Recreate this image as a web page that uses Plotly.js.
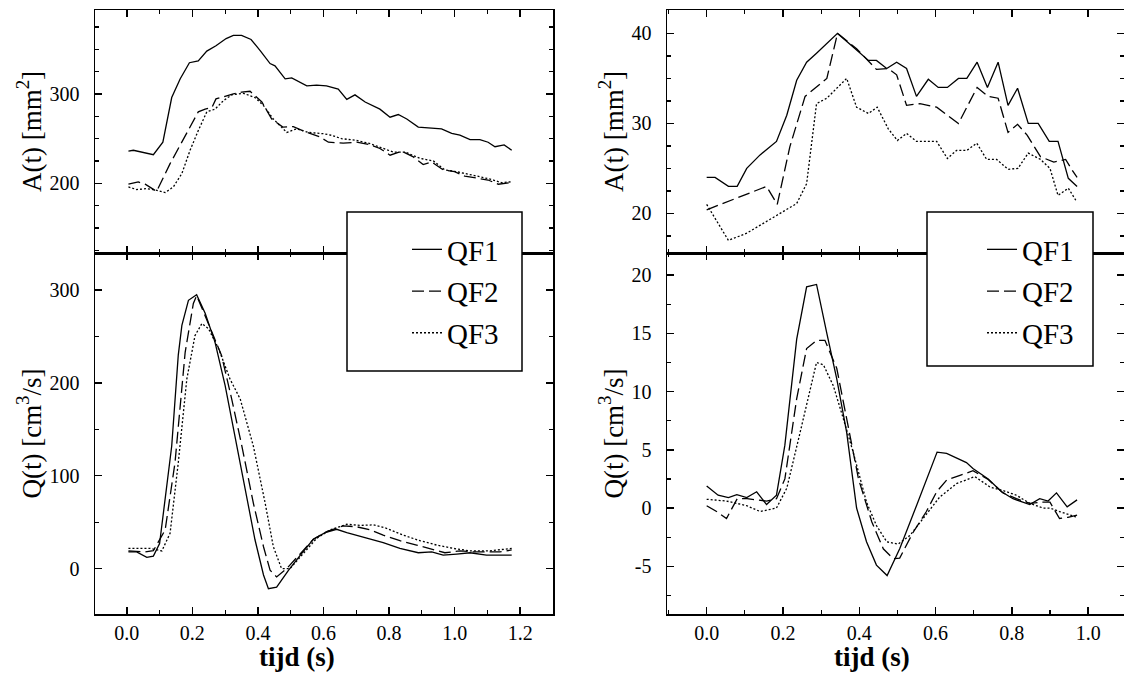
<!DOCTYPE html>
<html>
<head>
<meta charset="utf-8">
<script src="https://cdn.plot.ly/plotly-3.0.1.min.js"></script>
<style>html,body{margin:0;padding:0;background:#fff;}#chart{width:1124px;height:683px;}</style>
</head>
<body>
<div id="chart"></div>
<script>
// ---------- data ----------
// Left column: A(t) [mm2]
const tA_L_QF1 = [0.005,0.02,0.081,0.11,0.137,0.163,0.191,0.218,0.244,0.272,0.303,0.325,0.35,0.379,0.408,0.437,0.452,0.483,0.503,0.549,0.579,0.609,0.645,0.671,0.696,0.727,0.772,0.803,0.828,0.854,0.889,0.925,0.96,0.991,1.016,1.047,1.077,1.102,1.123,1.151,1.174];
const A_L_QF1  = [236,237,232,246,296,317,335,337,348,354,362,365.5,365.5,361,348,334,331.5,317,318,309,310,309,305.5,294,299,291,283,274,277,272,263,262,261,256,254,249,249,246,241,243,237];
const tA_L_QF2 = [0.005,0.035,0.056,0.091,0.132,0.183,0.218,0.239,0.26,0.272,0.295,0.325,0.35,0.376,0.412,0.442,0.476,0.508,0.549,0.589,0.615,0.66,0.701,0.737,0.772,0.803,0.838,0.874,0.904,0.93,0.965,1.0,1.031,1.067,1.102,1.133,1.174];
const A_L_QF2  = [199,201.5,199,191,222,257,280,283,285,294.5,297,300,302,303,291,272,263,263.5,257,252,246,245,246,243.7,239,231.5,236,229.6,221,224,215,213,208,205.5,203.7,199,201];
const tA_L_QF3 = [0.005,0.03,0.06,0.086,0.117,0.142,0.168,0.193,0.218,0.244,0.269,0.295,0.32,0.356,0.391,0.417,0.447,0.488,0.518,0.554,0.6,0.625,0.655,0.701,0.742,0.783,0.813,0.849,0.894,0.935,0.97,1.006,1.047,1.082,1.118,1.143,1.174];
const A_L_QF3  = [196,193,194,192.6,189.6,196,211,237,259,280,283,292.6,299,300.7,296,287,272,257,261,257,255.5,253.7,250,248,244.4,239,235,235,228,225,215,213,210,207,203.7,200.7,201.8];

// Left column: Q(t) [cm3/s]
const tQ_L_QF1 = [0.005,0.03,0.061,0.081,0.1,0.114,0.137,0.157,0.168,0.188,0.213,0.239,0.269,0.3,0.33,0.361,0.391,0.417,0.432,0.457,0.493,0.533,0.569,0.605,0.64,0.671,0.732,0.782,0.833,0.889,0.93,0.965,1.006,1.047,1.097,1.174];
const Q_L_QF1  = [18,18,12,13.4,27,67,132,230,262,289,295,275,244,197,143,85,31,-7,-21.7,-20,-2,16,31.5,38.7,42.3,38.7,32.5,27.9,21.7,17,18,14.5,15.6,17,14.5,14.5];
const tQ_L_QF2 = [0.005,0.056,0.081,0.117,0.147,0.178,0.203,0.213,0.234,0.264,0.289,0.32,0.351,0.386,0.417,0.437,0.457,0.488,0.528,0.569,0.61,0.66,0.701,0.742,0.782,0.833,0.884,0.935,0.97,1.016,1.057,1.097,1.138,1.174];
const Q_L_QF2  = [19,18,19.2,41.6,114,233,285.7,294,276.6,251,229.6,182.6,132,70.5,23.5,-1.8,-9,0,16,31.5,39.8,46,45,41.6,36,30,25.3,20,17,19,18,18,18,20];
const tQ_L_QF3 = [0.005,0.071,0.107,0.132,0.157,0.183,0.208,0.229,0.249,0.28,0.315,0.346,0.386,0.422,0.447,0.472,0.498,0.538,0.579,0.62,0.671,0.711,0.752,0.792,0.843,0.894,0.945,0.996,1.047,1.107,1.174];
const Q_L_QF3  = [21.7,21.7,19,38,114,204,251,264,258.6,236.9,204,182.6,132,70.5,23.5,0,0,16,32.5,41.6,47.7,46.5,47,43.4,36,30,25.3,21.7,19,19,21.7];

// Right column: A(t) [mm2]
const tA_R_QF1 = [0,0.022,0.057,0.08,0.105,0.14,0.183,0.21,0.236,0.262,0.288,0.315,0.343,0.384,0.424,0.445,0.472,0.498,0.524,0.55,0.581,0.607,0.631,0.66,0.682,0.709,0.736,0.764,0.79,0.815,0.843,0.869,0.898,0.921,0.948,0.971];
const A_R_QF1  = [24,24,23,23,25,26.5,28,30.9,34.8,36.8,37.8,38.9,40,38.5,37,37,36.1,36.8,36.1,33,34.9,34,34,35,35,36.8,34,36.8,32,33.9,30,30,28,28,23.9,23];
const tA_R_QF2 = [0,0.157,0.185,0.218,0.258,0.315,0.343,0.393,0.445,0.476,0.498,0.524,0.559,0.603,0.66,0.709,0.738,0.764,0.79,0.815,0.84,0.875,0.91,0.941,0.958,0.971];
const A_R_QF2  = [20.4,23,21,27.4,33,35,40,38.3,36,36.1,35.4,32,32.2,31.8,30,34,33,32.8,29,29.9,28.7,26.3,25.7,26,24.8,24];
const tA_R_QF3 = [0,0.057,0.105,0.236,0.262,0.288,0.315,0.367,0.393,0.424,0.447,0.476,0.5,0.524,0.55,0.603,0.631,0.655,0.682,0.708,0.734,0.76,0.79,0.816,0.843,0.875,0.9,0.921,0.948,0.97];
const A_R_QF3  = [21,17,17.8,21.1,23.3,32.2,32.8,35,31.8,31.1,31.8,29.4,28.1,28.9,28,28,26.1,27,27,27.8,26,26,24.9,25,26.7,26,25,22,22.8,21.3];

// Right column: Q(t) [cm3/s]
const tQ_R_QF1 = [0,0.03,0.057,0.079,0.105,0.131,0.157,0.183,0.205,0.236,0.262,0.288,0.315,0.341,0.367,0.393,0.419,0.445,0.473,0.506,0.55,0.604,0.629,0.668,0.681,0.698,0.738,0.773,0.803,0.847,0.873,0.895,0.917,0.945,0.971];
const Q_R_QF1  = [1.9,1.1,0.9,1.15,0.9,1.4,0.3,1.1,5.4,14.5,19,19.2,15,11.1,6.5,0,-2.9,-4.9,-5.8,-3.5,0.2,4.8,4.7,4.1,3.9,3.4,2.5,1.4,0.8,0.3,0.8,0.6,1.3,0.1,0.7];
const tQ_R_QF2 = [0,0.026,0.052,0.08,0.106,0.131,0.157,0.183,0.205,0.236,0.262,0.288,0.31,0.341,0.367,0.398,0.433,0.463,0.489,0.506,0.541,0.576,0.603,0.629,0.664,0.698,0.738,0.777,0.812,0.847,0.882,0.9,0.925,0.947,0.971];
const Q_R_QF2  = [0.2,-0.3,-0.9,0.8,0.8,0.7,0.6,0.8,2.5,9.4,13.7,14.4,14.4,12,7.7,2.5,-1.2,-3.5,-4.35,-4.3,-2.1,-0.3,1.4,2.4,2.8,3.2,2.45,1.3,0.8,0.4,0.5,0.5,-0.9,-0.8,-0.6];
const tQ_R_QF3 = [0,0.052,0.105,0.14,0.183,0.21,0.245,0.271,0.288,0.306,0.332,0.358,0.384,0.419,0.445,0.472,0.502,0.533,0.568,0.611,0.655,0.703,0.743,0.777,0.812,0.847,0.882,0.9,0.925,0.971];
const Q_R_QF3  = [0.75,0.6,0.2,-0.3,0,1.7,6.5,10,12.5,12.3,10.5,7.7,4.8,0.5,-1.5,-2.9,-3.1,-2.35,-0.9,0.95,2.1,2.7,1.8,1.5,1.1,0.4,0,0,-0.3,-0.8];

// labels
const seriesNames = ['QF1','QF2','QF3'];
const yTitleA = 'A(t) [mm<sup>2</sup>]';
const yTitleQ = 'Q(t) [cm<sup>3</sup>/s]';
const xTitle = '<b>tijd (s)</b>';
const qRightTickVals = [-5,0,5,10,15,20];
const qRightTickText = ['-5','0','5','10','15','20'];

// ---------- figure ----------
const FONT = 'Liberation Serif';
const dashes = ['solid','12px,5px','2px,2px'];

function tr(x, y, i, xa, ya, leg, show) {
  return {x: x, y: y, xaxis: xa, yaxis: ya, type: 'scatter', mode: 'lines',
    name: seriesNames[i], legend: leg, legendgroup: leg + seriesNames[i], showlegend: show,
    line: {color: '#000', width: 1.3, dash: dashes[i]}, hoverinfo: 'x+y'};
}

const data = [
  tr(tA_L_QF1, A_L_QF1, 0, 'x', 'y', 'legend', false),
  tr(tA_L_QF2, A_L_QF2, 1, 'x', 'y', 'legend', false),
  tr(tA_L_QF3, A_L_QF3, 2, 'x', 'y', 'legend', false),
  tr(tQ_L_QF1, Q_L_QF1, 0, 'x2', 'y2', 'legend', true),
  tr(tQ_L_QF2, Q_L_QF2, 1, 'x2', 'y2', 'legend', true),
  tr(tQ_L_QF3, Q_L_QF3, 2, 'x2', 'y2', 'legend', true),
  tr(tA_R_QF1, A_R_QF1, 0, 'x3', 'y3', 'legend2', false),
  tr(tA_R_QF2, A_R_QF2, 1, 'x3', 'y3', 'legend2', false),
  tr(tA_R_QF3, A_R_QF3, 2, 'x3', 'y3', 'legend2', false),
  tr(tQ_R_QF1, Q_R_QF1, 0, 'x4', 'y4', 'legend2', true),
  tr(tQ_R_QF2, Q_R_QF2, 1, 'x4', 'y4', 'legend2', true),
  tr(tQ_R_QF3, Q_R_QF3, 2, 'x4', 'y4', 'legend2', true)
];

const W = 1124, H = 683;
const px = v => v / W;
const py = v => 1 - v / H;

function ax(extra) {
  return Object.assign({
    showline: true, linecolor: '#000', linewidth: 1.5, mirror: 'allticks',
    ticks: 'inside', ticklen: 7, tickwidth: 1.5, tickcolor: '#000',
    showgrid: false, zeroline: false, automargin: false, fixedrange: true,
    tickfont: {family: FONT, size: 20, color: '#000'}
  }, extra);
}
const minorStyle = d => ({ticks: 'inside', ticklen: 4, tickwidth: 1.2, tickcolor: '#000', dtick: d, tick0: 0});
const yTitle = t => ({text: t, font: {family: FONT, size: 27, color: '#000'}, standoff: 0});

const xL = [px(95), px(553)], xR = [px(667), 1];
const yTop = [py(253), py(10)], yBot = [py(614), py(253)];

const layout = {
  width: W, height: H,
  margin: {l: 0, r: 0, t: 0, b: 0},
  paper_bgcolor: '#fff', plot_bgcolor: '#fff',
  font: {family: FONT, color: '#000'},
  xaxis: ax({domain: xL, anchor: 'y', range: [-0.097, 1.3], dtick: 0.2, tick0: 0, showticklabels: false, minor: minorStyle(0.1)}),
  xaxis2: ax({domain: xL, anchor: 'y2', range: [-0.097, 1.3], dtick: 0.2, tick0: 0, tickformat: '.1f', minor: minorStyle(0.1)}),
  yaxis: ax({domain: yTop, anchor: 'x', range: [122, 394], dtick: 100, tick0: 0, ticklabelstandoff: 10, minor: minorStyle(25), title: yTitle(yTitleA)}),
  yaxis2: ax({domain: yBot, anchor: 'x2', range: [-49, 340], dtick: 100, tick0: 0, ticklabelstandoff: 10, minor: minorStyle(50), title: yTitle(yTitleQ)}),
  xaxis3: ax({domain: xR, anchor: 'y3', range: [-0.104, 1.094], dtick: 0.2, tick0: 0, showticklabels: false, minor: minorStyle(0.1)}),
  xaxis4: ax({domain: xR, anchor: 'y4', range: [-0.104, 1.094], dtick: 0.2, tick0: 0, tickformat: '.1f', minor: minorStyle(0.1)}),
  yaxis3: ax({domain: yTop, anchor: 'x3', range: [15.6, 42.6], dtick: 10, tick0: 0, ticklabelstandoff: 10, minor: minorStyle(2.5), title: yTitle(yTitleA)}),
  yaxis4: ax({domain: yBot, anchor: 'x4', range: [-9.1, 21.9], tickmode: 'array', tickvals: qRightTickVals, ticktext: qRightTickText, ticklabelstandoff: 10, minor: minorStyle(2.5), title: yTitle(yTitleQ)}),
  legend: {x: px(407), y: py(224), xanchor: 'left', yanchor: 'top', bgcolor: 'rgba(0,0,0,0)', borderwidth: 0,
    font: {family: FONT, size: 29, color: '#000'}, tracegroupgap: 1},
  legend2: {x: px(982), y: py(224), xanchor: 'left', yanchor: 'top', bgcolor: 'rgba(0,0,0,0)', borderwidth: 0,
    font: {family: FONT, size: 29, color: '#000'}, tracegroupgap: 1},
  shapes: [
    {type: 'rect', xref: 'paper', yref: 'paper', x0: px(347), x1: px(522), y0: py(371), y1: py(212),
      fillcolor: '#fff', line: {color: '#000', width: 1.5}, layer: 'above'},
    {type: 'rect', xref: 'paper', yref: 'paper', x0: px(927), x1: px(1093), y0: py(366), y1: py(212),
      fillcolor: '#fff', line: {color: '#000', width: 1.5}, layer: 'above'}
  ],
  annotations: [
    {text: xTitle, xref: 'paper', yref: 'paper', x: px(297), y: py(657), xanchor: 'center', yanchor: 'middle',
      showarrow: false, font: {family: FONT, size: 27, color: '#000'}},
    {text: xTitle, xref: 'paper', yref: 'paper', x: px(872), y: py(657), xanchor: 'center', yanchor: 'middle',
      showarrow: false, font: {family: FONT, size: 27, color: '#000'}}
  ]
};

Plotly.newPlot('chart', data, layout, {staticPlot: true, displayModeBar: false});
</script>
</body>
</html>
